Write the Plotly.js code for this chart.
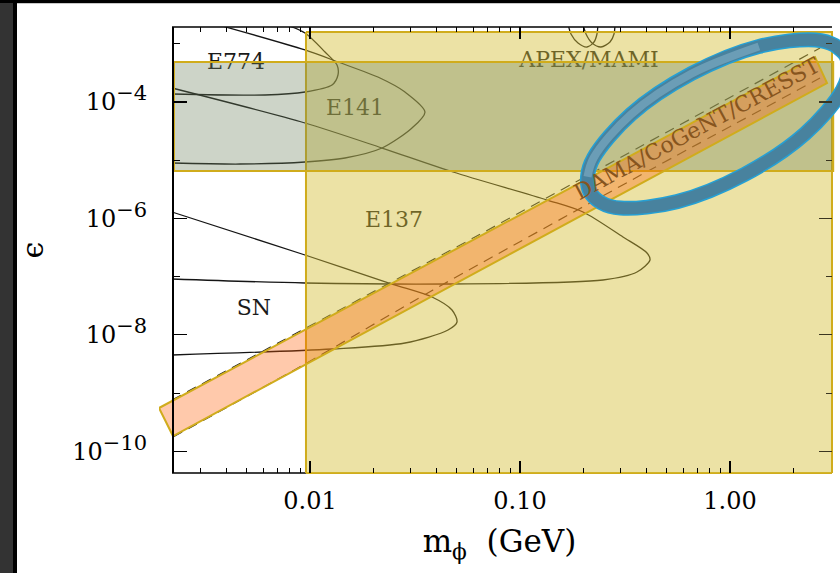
<!DOCTYPE html>
<html><head><meta charset="utf-8">
<script src="https://cdn.plot.ly/plotly-3.0.1.min.js"></script>
<style>
html,body{margin:0;padding:0;background:#fff;}
#wrap{position:relative;width:840px;height:573px;overflow:hidden;}
#chart{position:absolute;left:0;top:0;width:840px;height:573px;}
.edge{position:absolute;pointer-events:none;}
</style></head>
<body>
<div id="wrap">
<div id="chart"></div>
<div class="edge" style="left:0;top:0;width:13px;height:573px;background:#333;"></div>
<div class="edge" style="left:13px;top:0;width:4px;height:573px;background:#000;"></div>
<div class="edge" style="left:0;top:0;width:840px;height:3px;background:#000;"></div>
<div class="edge" style="left:17px;top:3px;width:823px;height:1px;background:#c8c8c8;"></div>
</div>
<script>
// ---- tick data ----
const XTICK_VALS = [0.01, 0.1, 1];
const XTICK_TEXT = ['0.01', '0.10', '1.00'];
const XMINOR = [0.003,0.004,0.005,0.006,0.007,0.008,0.009,0.02,0.03,0.04,0.05,0.06,0.07,0.08,0.09,0.2,0.3,0.4,0.5,0.6,0.7,0.8,0.9,2];
const YTICK_VALS = [1e-10, 1e-8, 1e-6, 1e-4];
const YTICK_EXP = ['−10', '−8', '−6', '−4'];
const YMINOR = [1e-9, 1e-7, 1e-5, 1e-3];

// ---- exclusion contours ----
const E141_X = [3.53e-3, 9.467e-3, 1.359e-2, 2.154e-2, 2.834e-2, 3.527e-2, 3.06e-2, 2.203e-2, 1.468e-2, 9.467e-3, 4.642e-3, 2.203e-3];
const E141_Y = [2.19e-3, 7.83e-4, 4.87e-4, 2.585e-4, 1.485e-4, 6.73e-5, 3.575e-5, 1.62e-5, 1.091e-5, 9.31e-6, 8.60e-6, 8.95e-6];
const E774_X = [7.52e-3, 9.467e-3, 1.179e-2, 1.345e-2, 1.359e-2, 1.273e-2, 9.467e-3, 6.105e-3, 2.203e-3];
const E774_Y = [2.19e-3, 1.533e-3, 7.23e-4, 4.32e-4, 2.91e-4, 1.96e-4, 1.485e-4, 1.319e-4, 1.372e-4];
const E137_X = [2.203e-3, 9.467e-3, 2.203e-2, 4.797e-2, 0.1345, 0.1995, 0.3093, 0.4025, 0.4159, 0.3606, 0.2484, 4.642e-2, 9.467e-3, 2.203e-3];
const E137_Y = [1.74e-4, 4.357e-5, 1.62e-5, 6.27e-6, 2.07e-6, 1.288e-6, 4.79e-7, 2.544e-7, 1.929e-7, 1.2e-7, 8.74e-8, 7.46e-8, 7.76e-8, 9.09e-8];
const SN_X = [2.203e-3, 9.467e-3, 2.458e-2, 3.81e-2, 4.745e-2, 5.012e-2, 4.541e-2, 2.834e-2, 1.273e-2, 2.203e-3];
const SN_Y = [1.288e-6, 2.35e-7, 7.46e-8, 4.46e-8, 2.668e-8, 1.66e-8, 1.209e-8, 7.23e-9, 5.70e-9, 4.50e-9];
const APEX1_X = [0.1693, 0.1749, 0.1889, 0.2085, 0.2251, 0.2326, 0.2351];
const APEX1_Y = [2.19e-3, 1.474e-3, 1.032e-3, 8.81e-4, 1.074e-3, 1.474e-3, 2.19e-3];
const APEX2_X = [0.1995, 0.2062, 0.2203, 0.2430, 0.2683, 0.2804, 0.2835];
const APEX2_Y = [2.19e-3, 1.474e-3, 1.032e-3, 8.81e-4, 1.074e-3, 1.474e-3, 2.19e-3];

// ---- dashed guide lines ----
const DASH_UP_X = [2.203e-3, 6.105e-2, 2.683];
const DASH_UP_Y = [7.58e-10, 4.79e-7, 8.47e-4];
const DASH_LO_X = [2.227e-3, 9.676e-3, 3.852e-2, 0.4159, 2.683];
const DASH_LO_Y = [1.754e-10, 3.277e-9, 5.886e-8, 6.785e-6, 2.585e-4];

// ---- shaded regions ----
const YEL_X = [0.00957, 3.06, 3.06, 0.00957, 0.00957];
const YEL_Y = [1.595e-3, 1.595e-3, 1e-11, 1e-11, 1.595e-3];
const GRY_X = [2.251e-3, 3.1, 3.1, 2.251e-3, 2.251e-3];
const GRY_Y = [4.87e-4, 4.87e-4, 6.52e-6, 6.52e-6, 4.87e-4];
const BAND_X = [1.91e-3, 2.227e-3, 2.897, 2.540, 1.91e-3];
const BAND_Y = [5.525e-10, 1.824e-10, 2.12e-4, 5.93e-4, 5.525e-10];

// ---- ring (points read around the drawn ellipse, going clockwise from its right tip) ----
const ELL_X = [3.568, 3.667, 3.426, 2.278, 1.175, 0.5599, 0.3010, 0.2438, 0.2154, 0.2097, 0.2244, 0.3374, 0.6542, 1.373, 2.553, 3.152];
const ELL_Y = [6.172e-4, 3.369e-4, 1.589e-4, 2.864e-5, 5.72e-6, 1.943e-6, 1.503e-6, 1.861e-6, 2.841e-6, 5.205e-6, 1.104e-5, 6.12e-5, 3.064e-4, 9.02e-4, 1.167e-3, 9.42e-4];

// ---- labels ----
const LABEL_TEXT = ['E774', 'E141', 'E137', 'SN', 'APEX/MAMI'];
const LABEL_X = [4.44e-3, 1.638e-2, 2.512e-2, 5.41e-3, 0.2131];
const LABEL_Y = [4.50e-4, 7.58e-5, 9.02e-7, 2.775e-8, 5.06e-4];
const BAND_LABEL = 'DAMA/CoGeNT/CRESST';
const BAND_LABEL_X = 0.6964, BAND_LABEL_Y = 3.575e-5;

// ---- frame limits ----
const X_AX_L = 2.203e-3, X_AX_R = 3.06;

const FONT = 'DejaVu Serif';
const GOLD = 'rgb(208,172,28)';
const LINE = '#151515';

function contour(x, y) {
  return {x: x, y: y, type: 'scatter', mode: 'lines', line: {color: LINE, width: 1.3, shape: 'spline', smoothing: 0.8}, hoverinfo: 'skip', showlegend: false};
}
function dashed(x, y) {
  return {x: x, y: y, type: 'scatter', mode: 'lines', line: {color: '#222', width: 1.2, dash: '10px,7px', shape: 'spline', smoothing: 0.5}, hoverinfo: 'skip', showlegend: false};
}
function region(x, y, fill) {
  return {x: x, y: y, type: 'scatter', mode: 'lines', fill: 'toself', fillcolor: fill, line: {color: GOLD, width: 2}, hoverinfo: 'skip', showlegend: false};
}
const N = ELL_X.length;
const ringX = [ELL_X[N - 1]].concat(ELL_X, ELL_X.slice(0, 2));
const ringY = [ELL_Y[N - 1]].concat(ELL_Y, ELL_Y.slice(0, 2));

const traces = [
  contour(E141_X, E141_Y),
  contour(E774_X, E774_Y),
  contour(E137_X, E137_Y),
  contour(SN_X, SN_Y),
  contour(APEX1_X, APEX1_Y),
  contour(APEX2_X, APEX2_Y),
  dashed(DASH_UP_X, DASH_UP_Y),
  dashed(DASH_LO_X, DASH_LO_Y),
  {x: LABEL_X, y: LABEL_Y, text: LABEL_TEXT, type: 'scatter', mode: 'text', textposition: 'middle center',
   textfont: {family: FONT, size: 22, color: '#1a1a1a'}, hoverinfo: 'skip', showlegend: false},
  region(YEL_X, YEL_Y, 'rgba(212,190,55,0.45)'),
  region(GRY_X, GRY_Y, 'rgba(108,129,93,0.34)'),
  region(BAND_X, BAND_Y, 'rgba(255,90,0,0.33)'),
  {x: ringX, y: ringY, type: 'scatter', mode: 'lines', line: {color: 'rgb(38,160,212)', width: 15, shape: 'spline'}, hoverinfo: 'skip', showlegend: false},
  {x: ringX, y: ringY, type: 'scatter', mode: 'lines', line: {color: 'rgb(72,130,158)', width: 12, shape: 'spline'}, hoverinfo: 'skip', showlegend: false},
  {x: ELL_X.slice(9, 14), y: ELL_Y.slice(9, 14), type: 'scatter', mode: 'lines', line: {color: 'rgba(175,210,225,0.35)', width: 8, shape: 'spline'}, hoverinfo: 'skip', showlegend: false},
  {x: [1], y: [1e-6], yaxis: 'y2', type: 'scatter', mode: 'markers', marker: {opacity: 0}, hoverinfo: 'skip', showlegend: false}
];

const tickFont = {family: FONT, size: 24, color: '#000'};
const layout = {
  width: 840, height: 573,
  margin: {l: 159, r: 0, t: 27, b: 100, pad: 0},
  paper_bgcolor: '#fff', plot_bgcolor: 'rgba(0,0,0,0)',
  showlegend: false,
  font: {family: FONT, color: '#000'},
  xaxis: {
    type: 'log', range: [-2.719, 0.5238], domain: [0, 1], anchor: 'y',
    showline: false, mirror: 'ticks', showgrid: false, zeroline: false,
    ticks: 'inside', ticklen: 12, tickwidth: 1.2, tickcolor: '#000',
    tickmode: 'array', tickvals: XTICK_VALS, ticktext: XTICK_TEXT,
    minor: {tickmode: 'array', tickvals: XMINOR, ticks: 'inside', ticklen: 5, tickwidth: 1, tickcolor: '#000', showgrid: false},
    tickfont: tickFont, ticklabelstandoff: 11,
    title: {text: 'm<sub>ϕ</sub>  (GeV)', font: {family: FONT, size: 31, color: '#000'}, standoff: 16}
  },
  yaxis: {
    type: 'log', range: [-10.3746, -2.7113], anchor: 'free', position: 0.01909, side: 'left',
    showline: true, linecolor: '#000', linewidth: 1.5, mirror: false, showgrid: false, zeroline: false,
    ticks: 'inside', ticklen: 13, tickwidth: 1.2, tickcolor: '#000',
    tickmode: 'array', tickvals: YTICK_VALS,
    ticktext: YTICK_EXP.map(e => '10<sup><span style="font-size:21px">' + e + '</span></sup>'),
    minor: {tickmode: 'array', tickvals: YMINOR, ticks: 'inside', ticklen: 6, tickwidth: 1, tickcolor: '#000', showgrid: false},
    tickfont: tickFont, ticklabelstandoff: 20,
    title: {text: 'ϵ', font: {family: FONT, size: 30, color: '#000'}, standoff: 18}
  },
  yaxis2: {
    type: 'log', range: [-10.3746, -2.7113], overlaying: 'y', anchor: 'free', position: 0.98825, side: 'right',
    showline: false, showgrid: false, zeroline: false, showticklabels: false,
    ticks: 'inside', ticklen: 13, tickwidth: 1.2, tickcolor: '#3a3520',
    tickmode: 'array', tickvals: YTICK_VALS,
    minor: {tickmode: 'array', tickvals: YMINOR, ticks: 'inside', ticklen: 6, tickwidth: 1, tickcolor: '#3a3520', showgrid: false}
  },
  shapes: [
    {type: 'line', layer: 'below', xref: 'x', yref: 'paper', x0: X_AX_L, x1: X_AX_R, y0: 1, y1: 1, line: {color: '#000', width: 1.5}},
    {type: 'line', layer: 'below', xref: 'x', yref: 'paper', x0: X_AX_L, x1: YEL_X[0], y0: 0, y1: 0, line: {color: '#000', width: 1.5}},
    {type: 'line', layer: 'below', xref: 'x', yref: 'paper', x0: YEL_X[0], x1: X_AX_R, y0: 0, y1: 0, line: {color: GOLD, width: 2}}
  ],
  annotations: [
    {x: Math.log10(BAND_LABEL_X), y: Math.log10(BAND_LABEL_Y), xref: 'x', yref: 'y', text: BAND_LABEL,
     showarrow: false, textangle: -28.3, font: {family: FONT, size: 22, color: 'rgb(135,85,30)'}}
  ]
};

Plotly.newPlot('chart', traces, layout, {staticPlot: true, displayModeBar: false});
</script>
</body></html>
